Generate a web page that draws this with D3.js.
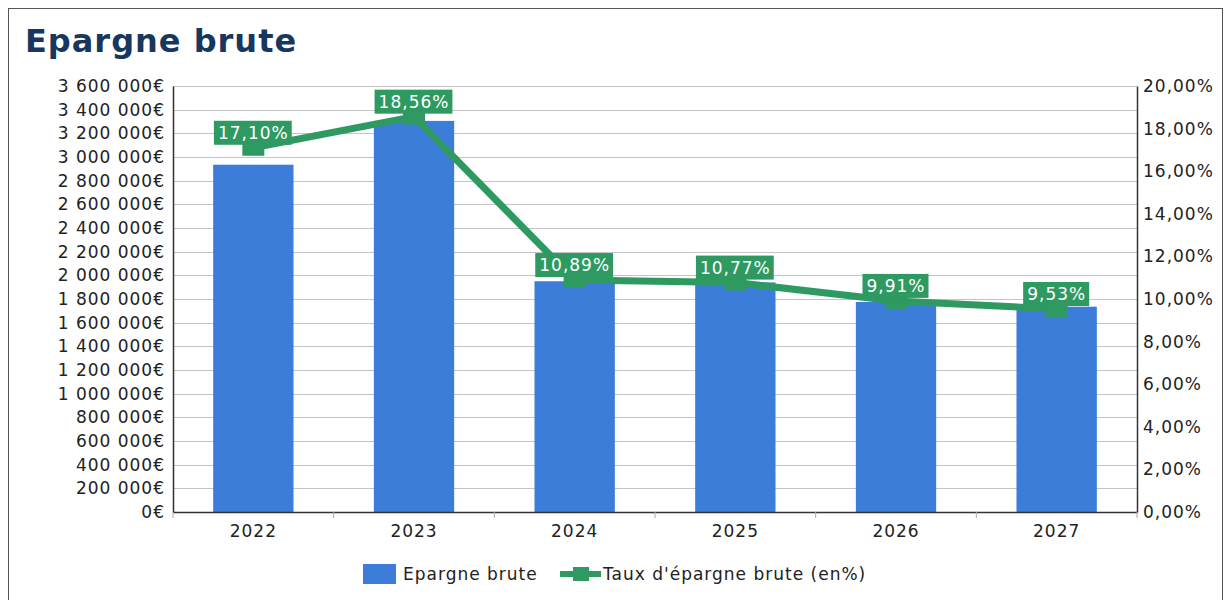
<!DOCTYPE html>
<html><head><meta charset="utf-8">
<script src="https://cdn.jsdelivr.net/npm/d3@7"></script>
<style>body{margin:0;background:#fff}svg{display:block;font-family:"DejaVu Sans",sans-serif}</style>
</head><body><svg id="c" width="1232" height="600"></svg>
<script>
const years = ["2022","2023","2024","2025","2026","2027"];
const epargne = [2935000, 3305000, 1950000, 1940000, 1775000, 1735000];
const taux = [17.10, 18.56, 10.89, 10.77, 9.91, 9.53];
const leftTicks = d3.range(0, 3600001, 200000);
const rightTicks = d3.range(0, 20.001, 2);

const svg = d3.select("#c");
const m = {l:173, r:1137, t:86, b:512};
svg.append("rect").attr("x",8.5).attr("y",8.5).attr("width",1214).attr("height",620).attr("fill","none").attr("stroke","#555").attr("stroke-width",1);
svg.append("text").attr("x",25).attr("y",52).attr("font-size",32).attr("font-weight","bold").attr("letter-spacing",1).attr("fill","#17375e").text("Epargne brute");

const x = d3.scaleBand().domain(years).range([m.l,m.r]).paddingInner(0.5).paddingOuter(0.25);
const yL = d3.scaleLinear().domain([0,3600000]).range([m.b,m.t]);
const yR = d3.scaleLinear().domain([0,20]).range([m.b,m.t]);

svg.append("g").selectAll("line").data(leftTicks).join("line")
  .attr("x1",m.l).attr("x2",m.r).attr("y1",d=>Math.round(yL(d))+0.5).attr("y2",d=>Math.round(yL(d))+0.5)
  .attr("stroke","#c4c4c4").attr("stroke-width",1);

const fmtE = d => d3.format(",")(d).replace(/,/g," ") + "€";
const styleTxt = sel => sel.attr("font-size",17).attr("letter-spacing",1).attr("fill","#222").attr("font-family","DejaVu Sans");
const gL = svg.append("g").attr("transform",`translate(${m.l},0)`)
  .call(d3.axisLeft(yL).tickValues(leftTicks).tickSize(0).tickPadding(8).tickFormat(fmtE));
gL.select(".domain").attr("stroke","#333").attr("stroke-width",1.5);
gL.selectAll("text").call(styleTxt);

const gR = svg.append("g").attr("transform",`translate(${m.r},0)`)
  .call(d3.axisRight(yR).tickValues(rightTicks).tickSize(0).tickPadding(6).tickFormat(d=>d3.format(".2f")(d).replace(".",",")+"%"));
gR.select(".domain").attr("stroke","#333").attr("stroke-width",1.5);
gR.selectAll("text").call(styleTxt);

svg.append("g").selectAll("rect").data(years).join("rect")
  .attr("x",d=>x(d)).attr("width",x.bandwidth())
  .attr("y",(d,i)=>yL(epargne[i])).attr("height",(d,i)=>m.b-yL(epargne[i]))
  .attr("fill","#3b7dd8");

const gX = svg.append("g").attr("transform",`translate(0,${m.b})`)
  .call(d3.axisBottom(x).tickSize(0).tickPadding(13));
gX.select(".domain").attr("stroke","#333").attr("stroke-width",1.5);
gX.selectAll("text").call(styleTxt);
const step = x.step();
svg.append("g").selectAll("line").data(d3.range(years.length+1)).join("line")
  .attr("x1",i=>m.l+i*step).attr("x2",i=>m.l+i*step).attr("y1",m.b).attr("y2",m.b+6)
  .attr("stroke","#aaa");

const green = "#2e9a62";
const cx = d => x(d)+x.bandwidth()/2;
svg.append("path").datum(years).attr("fill","none").attr("stroke",green).attr("stroke-width",7)
  .attr("stroke-linejoin","round")
  .attr("d",d3.line().x(d=>cx(d)).y((d,i)=>yR(taux[i])));
svg.append("g").selectAll("rect").data(years).join("rect")
  .attr("x",d=>cx(d)-11).attr("y",(d,i)=>yR(taux[i])-8).attr("width",22).attr("height",16).attr("fill",green);

const lab = svg.append("g").selectAll("g").data(years).join("g")
  .attr("transform",(d,i)=>`translate(${cx(d)},${yR(taux[i])-3})`);
const fmtP = v => d3.format(".2f")(v).replace(".",",")+"%";
lab.append("text").attr("text-anchor","middle").attr("y",-6).attr("font-size",17).attr("letter-spacing",1).attr("fill","#fff")
  .attr("font-family","DejaVu Sans").text((d,i)=>fmtP(taux[i]))
  .each(function(){
    const b=this.getBBox();
    d3.select(this.parentNode).insert("rect","text").attr("x",b.x-4).attr("y",-24).attr("width",b.width+7).attr("height",24).attr("fill",green);
  });

// legend
const lg = svg.append("g").attr("transform","translate(363,564)");
lg.append("rect").attr("x",0).attr("y",0).attr("width",33).attr("height",20).attr("fill","#3b7dd8");
lg.append("text").attr("x",40).attr("y",16).attr("font-size",17).attr("letter-spacing",1).attr("fill","#222").text("Epargne brute");
lg.append("line").attr("x1",197).attr("x2",238).attr("y1",10).attr("y2",10).attr("stroke",green).attr("stroke-width",6);
lg.append("rect").attr("x",210).attr("y",3).attr("width",16).attr("height",14).attr("fill",green);
lg.append("text").attr("x",240).attr("y",16).attr("font-size",17).attr("letter-spacing",1).attr("fill","#222").text("Taux d'épargne brute (en%)");
</script></body></html>
